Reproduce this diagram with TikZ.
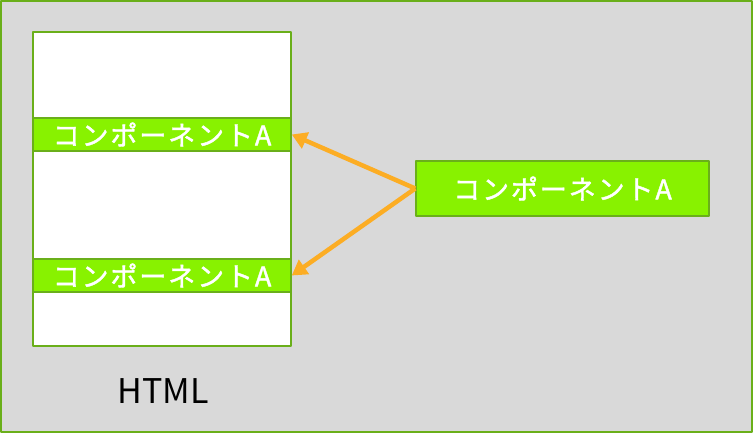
\documentclass[tikz,border=0pt]{standalone}
\usepackage{fontspec}
\newfontfamily\jpfont{Noto Sans CJK JP}[LetterSpace=7,FakeBold=1.5]
\newfontfamily\htmlfont{Noto Sans CJK JP}
\usetikzlibrary{arrows.meta}
\definecolor{pagegray}{HTML}{D9D9D9}
\definecolor{edgegreen}{HTML}{6AAF1A}
\definecolor{compgreen}{HTML}{88F200}
\definecolor{arroworange}{HTML}{FCAD24}
\tikzset{
  comp/.style={draw=edgegreen,line width=1.5pt,fill=compgreen,text=white,
    font=\jpfont\fontsize{27}{27}\selectfont,inner sep=0pt,anchor=center},
  link/.style={draw=arroworange,line width=4.5pt,-{Triangle[length=15pt,width=17pt]}}
}
\begin{document}
\begin{tikzpicture}[x=1pt,y=-1pt,line join=round]
  \useasboundingbox (0,0) rectangle (754,435);
  % background and page
  \draw[edgegreen,line width=1.5pt,fill=pagegray] (1,1) rectangle (752,432);
  \draw[edgegreen,line width=1.5pt,fill=white] (33,32) rectangle (291,346);
  \node[font=\htmlfont\fontsize{34}{34}\selectfont] (html) at (163,391) {HTML};
  % components
  \node[comp,minimum width=258pt,minimum height=33pt] (top) at (162,134.5) {コンポーネントA};
  \node[comp,minimum width=258pt,minimum height=33pt] (bottom) at (162,275.5) {コンポーネントA};
  \node[comp,minimum width=293pt,minimum height=55pt] (src) at (562.5,188.5) {コンポーネントA};
  \draw[link] (src.west) -- (top.east);
  \draw[link] (src.west) -- (bottom.east);
\end{tikzpicture}
\end{document}
